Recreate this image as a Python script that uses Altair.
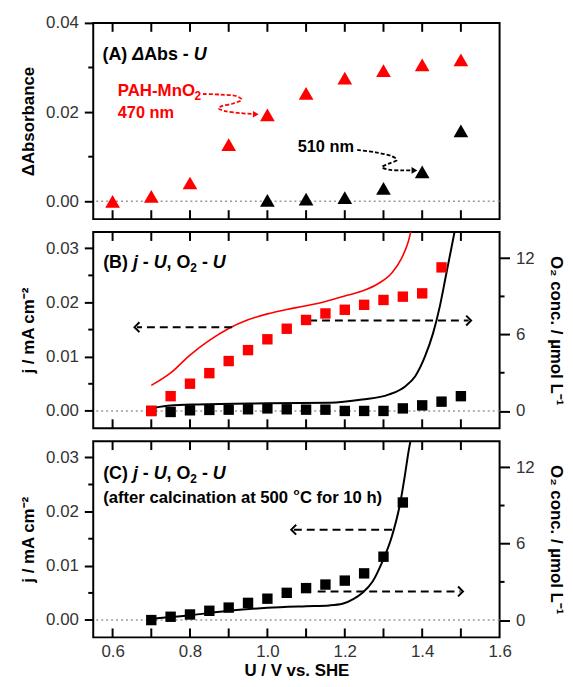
import altair as alt
import pandas as pd

FONT = "Liberation Sans"
RED = "#ff0000"
BLK = "#000000"
W, H = 410, 198

# ---------------- data ----------------
U_DOMAIN = [0.55, 1.6]
A_DOMAIN = [-0.004, 0.04]
J_DOMAIN = [-0.0032, 0.033]
O2_DOMAIN = [-1.36, 14.06]

X_TICKS = [0.6, 0.7, 0.8, 0.9, 1.0, 1.1, 1.2, 1.3, 1.4, 1.5]
X_LABELS = [0.6, 0.8, 1.0, 1.2, 1.4, 1.6]

# Panel A: dAbsorbance vs U
a_u_470 = [0.6, 0.7, 0.8, 0.9, 1.0, 1.1, 1.2, 1.3, 1.4, 1.5]
a_abs_470 = [0.000, 0.0011, 0.0041, 0.0127, 0.0194, 0.0242, 0.0276, 0.0293, 0.0306, 0.0317]
a_u_510 = [1.0, 1.1, 1.2, 1.3, 1.4, 1.5]
a_abs_510 = [0.0002, 0.0005, 0.0008, 0.0029, 0.0066, 0.0158]

# Panel B: PAH-MnO2 (red) and black sample
b_u_red = [0.70, 0.75, 0.80, 0.85, 0.90, 0.95, 1.00, 1.05, 1.10, 1.15, 1.20, 1.25, 1.30, 1.35, 1.40, 1.45]
b_o2_red = [0.00, 1.16, 2.14, 2.97, 3.92, 4.78, 5.63, 6.46, 7.15, 7.66, 7.95, 8.34, 8.72, 8.98, 9.24, 11.28]
b_u_blk = [0.70, 0.75, 0.80, 0.85, 0.90, 0.95, 1.00, 1.05, 1.10, 1.15, 1.20, 1.25, 1.30, 1.35, 1.40, 1.45, 1.50]
b_o2_blk = [0.00, -0.08, 0.05, 0.08, 0.10, 0.13, 0.20, 0.13, 0.10, 0.10, 0.00, 0.00, 0.00, 0.20, 0.44, 0.73, 1.16]
b_line_red_u = [0.70, 0.75, 0.80, 0.85, 0.90, 0.95, 1.00, 1.05, 1.10, 1.15, 1.20, 1.245, 1.287, 1.322, 1.347, 1.364, 1.372]
b_line_red_j = [0.0047, 0.0070, 0.0103, 0.0130, 0.0152, 0.0168, 0.0179, 0.0187, 0.0194, 0.0202, 0.0212, 0.0221, 0.0235, 0.0255, 0.0282, 0.0312, 0.0335]
b_line_blk_u = [0.708, 0.75, 0.82, 1.00, 1.16, 1.245, 1.313, 1.356, 1.382, 1.407, 1.428, 1.445, 1.462, 1.477, 1.485]
b_line_blk_j = [0.0006, 0.0010, 0.0012, 0.0014, 0.0015, 0.0021, 0.0030, 0.0045, 0.0064, 0.0100, 0.0143, 0.0191, 0.0252, 0.0306, 0.0335]

# Panel C: after calcination
c_u = [0.70, 0.75, 0.80, 0.85, 0.90, 0.95, 1.00, 1.05, 1.10, 1.15, 1.20, 1.25, 1.30, 1.35]
c_o2 = [0.00, 0.26, 0.44, 0.73, 0.98, 1.35, 1.68, 2.14, 2.51, 2.79, 3.10, 3.67, 4.98, 9.24]
c_line_u = [0.708, 0.80, 0.90, 1.00, 1.10, 1.16, 1.194, 1.223, 1.245, 1.271, 1.296, 1.322, 1.343, 1.356, 1.365, 1.371]
c_line_j = [0.0003, 0.0009, 0.0017, 0.00225, 0.00255, 0.0027, 0.0030, 0.0039, 0.0050, 0.0070, 0.0106, 0.0155, 0.0215, 0.0270, 0.0312, 0.0335]

# annotation arrows (data units)
a_arrow_red_u = [0.8335, 0.8778, 0.9206, 0.9334, 0.9118, 0.8821, 0.8734, 0.8906, 0.9290, 0.9631]
a_arrow_red_y = [0.02406, 0.02393, 0.02355, 0.02282, 0.02193, 0.02133, 0.02082, 0.02023, 0.01978, 0.01956]
a_arrow_blk_u = [1.2320, 1.2790, 1.3216, 1.3344, 1.3131, 1.2960, 1.3131, 1.3472, 1.3728]
a_arrow_blk_y = [0.01152, 0.01099, 0.01010, 0.00930, 0.00842, 0.00767, 0.00709, 0.00693, 0.00693]

# ---------------- helpers ----------------
xs = alt.Scale(domain=U_DOMAIN, nice=False, zero=False)

def yaxis(values, title):
    return alt.Axis(values=values, format=".2f", title=title, domain=False, grid=False,
                    tickSize=9, tickWidth=2, tickColor=BLK,
                    labelFont=FONT, labelFontSize=17, labelColor="#333", labelPadding=6,
                    titleFont=FONT, titleFontSize=17, titleFontWeight="bold", titleColor=BLK,
                    titlePadding=8)

yaxis_right = alt.Axis(orient="right", values=[0, 6, 12], format="d",
                       title="O\u2082 conc. / \u00b5mol L\u207b\u00b9", domain=False, grid=False,
                       tickSize=10, tickWidth=2, tickColor=BLK,
                       labelFont=FONT, labelFontSize=17, labelColor="#333", labelPadding=6,
                       titleFont=FONT, titleFontSize=17, titleFontWeight="bold", titleColor=BLK,
                       titlePadding=12)

xaxis_C = alt.Axis(values=X_LABELS, format=".1f", ticks=False, tickSize=0, domain=False, grid=False,
                   labelFont=FONT, labelFontSize=17, labelColor="#333", labelPadding=6,
                   labelFlush=False, title="U / V vs. SHE", titleFont=FONT, titleFontSize=17,
                   titleFontWeight="bold", titleColor=BLK, titlePadding=3)


def encoders(ydomain, yax, xax):
    ys = alt.Scale(domain=ydomain, nice=False, zero=False)
    def Xf(f):
        return alt.X(f, type="quantitative", scale=xs, axis=xax)
    def Yf(f):
        return alt.Y(f, type="quantitative", scale=ys, axis=yax)
    return Xf, Yf


def zero_line(Yf):
    return alt.Chart(pd.DataFrame({"v": [0.0]})).mark_rule(
        color="#999", strokeDash=[2, 3], strokeWidth=1.5).encode(y=Yf("v"))


def x_ticks(Xf):
    df = pd.DataFrame({"v": X_TICKS})
    top = alt.Chart(df).mark_rule(color=BLK, strokeWidth=2).encode(
        x=Xf("v"), y=alt.value(0), y2=alt.value(9))
    bot = alt.Chart(df).mark_rule(color=BLK, strokeWidth=2).encode(
        x=Xf("v"), y=alt.value(H), y2=alt.value(H - 9))
    return [top, bot]


def minor_left(Yf, vals):
    return alt.Chart(pd.DataFrame({"v": vals})).mark_rule(color=BLK, strokeWidth=2).encode(
        y=Yf("v"), x=alt.value(-5), x2=alt.value(0))


def minor_right(Yf, vals):
    return alt.Chart(pd.DataFrame({"v": vals})).mark_rule(color=BLK, strokeWidth=2).encode(
        y=Yf("v"), x=alt.value(W), x2=alt.value(W + 5))


def txt(Xf, Yf, x, y, s, dx=0, dy=0, size=18, italic=False, color=BLK):
    return alt.Chart(pd.DataFrame({"x": [x], "y": [y]})).mark_text(
        text=s, align="left", baseline="middle", dx=dx, dy=dy, font=FONT, fontSize=size,
        fontWeight="bold", fontStyle="italic" if italic else "normal", color=color
    ).encode(x=Xf("x"), y=Yf("y"))


def curve(Xf, Yf, us, vs, color, dash, width, interp):
    df = pd.DataFrame({"x": us, "y": vs, "o": list(range(len(us)))})
    return alt.Chart(df).mark_line(color=color, strokeDash=dash, strokeWidth=width,
                                   interpolate=interp, clip=True).encode(
        x=Xf("x"), y=Yf("y"), order="o:Q")


def solid(Xf, Yf, us, vs, color, width):
    df = pd.DataFrame({"x": us, "y": vs})
    return alt.Chart(df).mark_line(color=color, strokeWidth=width, interpolate="monotone",
                                   clip=True).encode(x=Xf("x"), y=Yf("y"))


def head(Xf, Yf, x, y, shape, color, filled, size):
    return alt.Chart(pd.DataFrame({"x": [x], "y": [y]})).mark_point(
        shape=shape, filled=filled, size=size, color=color, opacity=1, strokeWidth=2
    ).encode(x=Xf("x"), y=Yf("y"))


def pts(Xf, Yf, us, vs, shape, color, size):
    return alt.Chart(pd.DataFrame({"x": us, "y": vs})).mark_point(
        shape=shape, filled=True, size=size, color=color, opacity=1
    ).encode(x=Xf("x"), y=Yf("y"))

LEFT = "M0.5,-1L-0.5,0L0.5,1"
RIGHT = "M-0.5,-1L0.5,0L-0.5,1"

# ---------------- panel A ----------------
Xa, Ya = encoders(A_DOMAIN, yaxis([0, 0.02, 0.04], "\u0394Absorbance"), None)
layers_a = [zero_line(Ya)] + x_ticks(Xa) + [
    minor_left(Ya, [0.01, 0.03]),
    curve(Xa, Ya, a_arrow_red_u, a_arrow_red_y, RED, [4, 2], 1.8, "catmull-rom"),
    head(Xa, Ya, 0.9700, 0.01952, "triangle-right", RED, True, 45),
    curve(Xa, Ya, a_arrow_blk_u, a_arrow_blk_y, BLK, [4, 2], 1.8, "catmull-rom"),
    head(Xa, Ya, 1.3800, 0.00693, "triangle-right", BLK, True, 45),
    pts(Xa, Ya, a_u_470, a_abs_470, "triangle-up", RED, 220),
    pts(Xa, Ya, a_u_510, a_abs_510, "triangle-up", BLK, 220),
    txt(Xa, Ya, 0.574, 0.0329, "(A)"),
    txt(Xa, Ya, 0.574, 0.0329, "\u0394", dx=30.0, italic=True),
    txt(Xa, Ya, 0.574, 0.0329, "Abs -", dx=42.0),
    txt(Xa, Ya, 0.574, 0.0329, "U", dx=92.0, italic=True),
    txt(Xa, Ya, 0.6133, 0.02466, "PAH-MnO", size=17, color=RED),
    txt(Xa, Ya, 0.6133, 0.02466, "2", dx=77.5, dy=5, size=12, color=RED),
    txt(Xa, Ya, 0.6133, 0.01985, "470 nm", size=16.5, color=RED),
    txt(Xa, Ya, 1.0783, 0.0121, "510 nm", size=16.5),
]
panel_a = alt.layer(*layers_a).properties(width=W, height=H)

# ---------------- panel B ----------------
Xb, Yb = encoders(J_DOMAIN, yaxis([0, 0.01, 0.02, 0.03], "j / mA cm\u207b\u00b2"), None)
ysr = alt.Scale(domain=O2_DOMAIN, nice=False, zero=False)
def YRb(f):
    return alt.Y(f, type="quantitative", scale=ysr, axis=yaxis_right)


def label_jU(Xf, Yf, x, y, letter):
    return [
        txt(Xf, Yf, x, y, "(" + letter + ")"),
        txt(Xf, Yf, x, y, "j", dx=30.0, italic=True),
        txt(Xf, Yf, x, y, "-", dx=40.0),
        txt(Xf, Yf, x, y, "U", dx=51.0, italic=True),
        txt(Xf, Yf, x, y, ", O", dx=64.0),
        txt(Xf, Yf, x, y, "2", dx=88.0, dy=5, size=12),
        txt(Xf, Yf, x, y, "-", dx=99.7),
        txt(Xf, Yf, x, y, "U", dx=110.7, italic=True),
    ]

left_b = [zero_line(Yb)] + x_ticks(Xb) + [
    minor_left(Yb, [0.005, 0.015, 0.025]),
    solid(Xb, Yb, b_line_red_u, b_line_red_j, RED, 1.6),
    solid(Xb, Yb, b_line_blk_u, b_line_blk_j, BLK, 2),
    curve(Xb, Yb, [0.909, 0.663], [0.01545, 0.01545], BLK, [8, 5], 2, "linear"),
    head(Xb, Yb, 0.663, 0.01545, LEFT, BLK, False, 100),
    curve(Xb, Yb, [1.108, 1.520], [0.01667, 0.01667], BLK, [8, 5], 2, "linear"),
    head(Xb, Yb, 1.520, 0.01667, RIGHT, BLK, False, 100),
] + label_jU(Xb, Yb, 0.5756, 0.02727, "B")
right_b = [
    minor_right(YRb, [3, 9]),
    pts(Xb, YRb, b_u_blk, b_o2_blk, "square", BLK, 110),
    pts(Xb, YRb, b_u_red, b_o2_red, "square", RED, 110),
]
panel_b = alt.layer(alt.layer(*left_b), alt.layer(*right_b)).resolve_scale(
    y="independent").properties(width=W, height=H)

# ---------------- panel C ----------------
Xc, Yc = encoders(J_DOMAIN, yaxis([0, 0.01, 0.02, 0.03], "j / mA cm\u207b\u00b2"), xaxis_C)
def YRc(f):
    return alt.Y(f, type="quantitative", scale=ysr, axis=yaxis_right)

left_c = [zero_line(Yc)] + x_ticks(Xc) + [
    minor_left(Yc, [0.005, 0.015, 0.025]),
    solid(Xc, Yc, c_line_u, c_line_j, BLK, 2),
    curve(Xc, Yc, [1.322, 1.068], [0.01667, 0.01667], BLK, [8, 5], 2, "linear"),
    head(Xc, Yc, 1.068, 0.01667, LEFT, BLK, False, 100),
    curve(Xc, Yc, [1.130, 1.499], [0.00527, 0.00527], BLK, [8, 5], 2, "linear"),
    head(Xc, Yc, 1.499, 0.00527, RIGHT, BLK, False, 100),
    txt(Xc, Yc, 0.5756, 0.02244, "(after calcination at 500", size=16.8),
    txt(Xc, Yc, 0.5756, 0.02244, "o", dx=192.0, dy=-6, size=10),
    txt(Xc, Yc, 0.5756, 0.02244, "C for 10 h)", dx=198.5, size=16.8),
] + label_jU(Xc, Yc, 0.5756, 0.02698, "C")
right_c = [
    minor_right(YRc, [3, 9]),
    pts(Xc, YRc, c_u, c_o2, "square", BLK, 110),
]
panel_c = alt.layer(alt.layer(*left_c), alt.layer(*right_c)).resolve_scale(
    y="independent").properties(width=W, height=H)

chart = alt.vconcat(panel_a, panel_b, panel_c, spacing=9).properties(
    padding={"left": 10, "top": 2, "right": 0, "bottom": 0}
).configure_view(stroke=BLK, strokeWidth=2)

chart.save("out.html", embed_options={"renderer": "svg", "actions": False})
